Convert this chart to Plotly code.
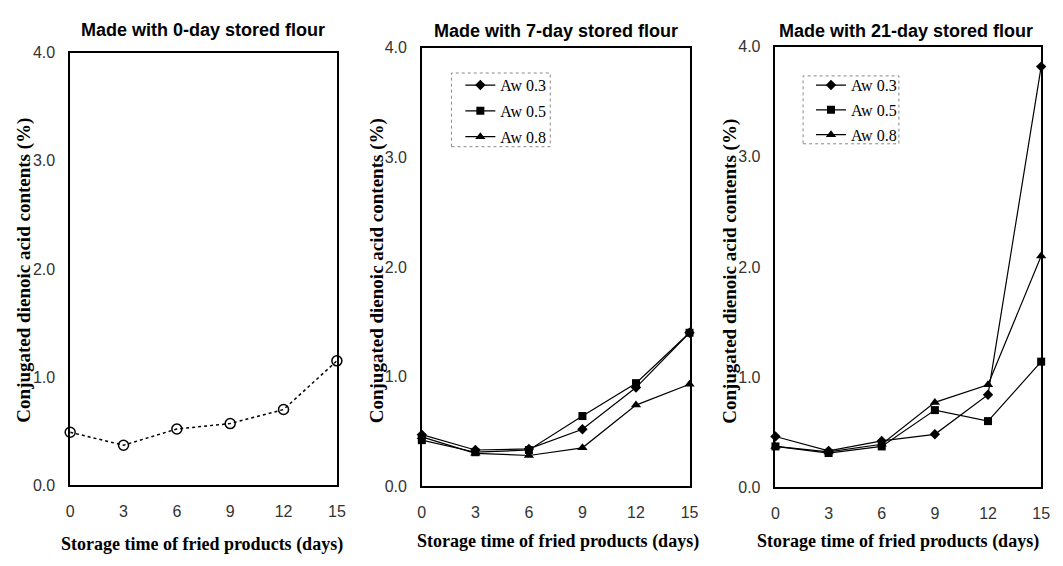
import plotly.graph_objects as go

days = [0, 3, 6, 9, 12, 15]
tick_labels = ["0", "3", "6", "9", "12", "15"]
y_ticks = [0.0, 1.0, 2.0, 3.0, 4.0]
y_tick_labels = ["0.0", "1.0", "2.0", "3.0", "4.0"]

panel_titles = ["Made with 0-day stored flour",
                "Made with 7-day stored flour",
                "Made with 21-day stored flour"]
x_title = "Storage time of fried products (days)"
y_title = "Conjugated dienoic acid contents (%)"
series_names = ["Aw 0.3", "Aw 0.5", "Aw 0.8"]

# Panel 1: 0-day stored flour
day0 = [0.49, 0.37, 0.52, 0.57, 0.70, 1.15]

# Panel 2: 7-day stored flour
day7_aw03 = [0.47, 0.33, 0.34, 0.52, 0.90, 1.40]
day7_aw05 = [0.42, 0.31, 0.33, 0.64, 0.94, 1.40]
day7_aw08 = [0.45, 0.30, 0.28, 0.35, 0.74, 0.93]

# Panel 3: 21-day stored flour
day21_aw03 = [0.46, 0.33, 0.42, 0.48, 0.84, 3.82]
day21_aw05 = [0.37, 0.31, 0.37, 0.70, 0.60, 1.14]
day21_aw08 = [0.37, 0.32, 0.39, 0.77, 0.93, 2.10]

symbols = ["diamond", "square", "triangle-up"]
sizes = [8, 8, 9]

# positions are given as pixels of the 1063x566 window, converted to paper fractions
W, H = 1063, 566


def fx(px):
    return px / W


def fy(py):
    return 1 - py / H


frames = [(67, 46, 337, 492), (423, 41, 694, 493), (781, 40, 1050, 494)]

fig = go.Figure()

fig.add_trace(go.Scatter(
    x=days, y=day0, mode="lines+markers", xaxis="x", yaxis="y",
    line=dict(color="black", width=1.5, dash="dot"),
    marker=dict(symbol="circle-open", size=10, color="black", line=dict(width=1.5)),
    showlegend=False, cliponaxis=False))

for i, (vals, name) in enumerate(zip([day7_aw03, day7_aw05, day7_aw08], series_names)):
    fig.add_trace(go.Scatter(
        x=days, y=vals, mode="lines+markers", name=name, xaxis="x2", yaxis="y2",
        line=dict(color="black", width=1.2),
        marker=dict(symbol=symbols[i], size=sizes[i], color="black"),
        legend="legend", legendgroup="a" + str(i), cliponaxis=False))

for i, (vals, name) in enumerate(zip([day21_aw03, day21_aw05, day21_aw08], series_names)):
    fig.add_trace(go.Scatter(
        x=days, y=vals, mode="lines+markers", name=name, xaxis="x3", yaxis="y3",
        line=dict(color="black", width=1.2),
        marker=dict(symbol=symbols[i], size=sizes[i], color="black"),
        legend="legend2", legendgroup="b" + str(i), cliponaxis=False))

tick_font = dict(family="Liberation Sans, Arial, sans-serif", size=16, color="#333333")
serif_bold = "Liberation Serif, Times New Roman, serif"

layout = dict(
    autosize=True,
    margin=dict(l=0, r=0, t=0, b=0, pad=0),
    paper_bgcolor="white", plot_bgcolor="white",
    showlegend=True,
)

for k, (x0, y0, x1, y1) in enumerate(frames):
    sx = "" if k == 0 else str(k + 1)
    layout["xaxis" + sx] = dict(
        domain=[fx(x0), fx(x1)], range=[0, 15], anchor="y" + sx,
        tickvals=days, ticktext=tick_labels, tickfont=tick_font,
        showgrid=False, zeroline=False, showline=True, mirror=True,
        linecolor="black", linewidth=1.5, ticks="", ticklabelstandoff=11,
    )
    layout["yaxis" + sx] = dict(
        domain=[fy(y1), fy(y0)], range=[0, 4], anchor="x" + sx,
        tickvals=y_ticks, ticktext=y_tick_labels, tickfont=tick_font,
        showgrid=False, zeroline=False, showline=True, mirror=True,
        linecolor="black", linewidth=1.5, ticks="", ticklabelstandoff=10,
    )

legend_font = dict(family=serif_bold, size=16, color="black")
layout["legend"] = dict(x=fx(462), y=fy(62), xanchor="left", yanchor="top",
                        font=legend_font, bgcolor="rgba(0,0,0,0)", borderwidth=0,
                        tracegroupgap=2, itemwidth=30)
layout["legend2"] = dict(x=fx(817), y=fy(62), xanchor="left", yanchor="top",
                         font=legend_font, bgcolor="rgba(0,0,0,0)", borderwidth=0,
                         tracegroupgap=1, itemwidth=30)

fig.update_layout(**layout)

# panel titles
title_pos = [(201, 23), (559, 24), (913, 24)]
for t, (cx, cy) in zip(panel_titles, title_pos):
    fig.add_annotation(text=t, x=fx(cx), y=fy(cy), xref="paper", yref="paper",
                       showarrow=False, xanchor="center", yanchor="middle",
                       font=dict(family="Liberation Sans, Arial, sans-serif", size=18,
                                 color="black", weight="bold"))

# axis titles
xt_pos = [(200, 553), (561, 550), (905, 550)]
yt_pos = [(20, 270), (377, 271), (735, 272)]
for (cx, cy) in xt_pos:
    fig.add_annotation(text=x_title, x=fx(cx), y=fy(cy), xref="paper", yref="paper",
                       showarrow=False, xanchor="center", yanchor="middle",
                       font=dict(family=serif_bold, size=18, color="black", weight="bold"))
for (cx, cy) in yt_pos:
    fig.add_annotation(text=y_title, x=fx(cx), y=fy(cy), xref="paper", yref="paper",
                       showarrow=False, xanchor="center", yanchor="middle", textangle=-90,
                       font=dict(family=serif_bold, size=19, color="black", weight="bold"))

# dotted legend boxes
for (x0, y0, x1, y1) in [(453, 67, 553, 143), (809, 70, 906, 140)]:
    fig.add_shape(type="rect", xref="paper", yref="paper",
                  x0=fx(x0), x1=fx(x1), y0=fy(y1), y1=fy(y0),
                  line=dict(color="#888888", width=1, dash="dot"))

fig.write_html(
    "out.html",
    default_width="100vw", default_height="100vh",
    config={"displayModeBar": False, "responsive": True},
    post_script=(
        "document.documentElement.style.margin='0';"
        "document.body.style.margin='0';"
        "document.documentElement.style.overflow='hidden';"
        "document.body.style.overflow='hidden';"
        "Plotly.Plots.resize(document.getElementById('{plot_id}'));"
    ),
)
